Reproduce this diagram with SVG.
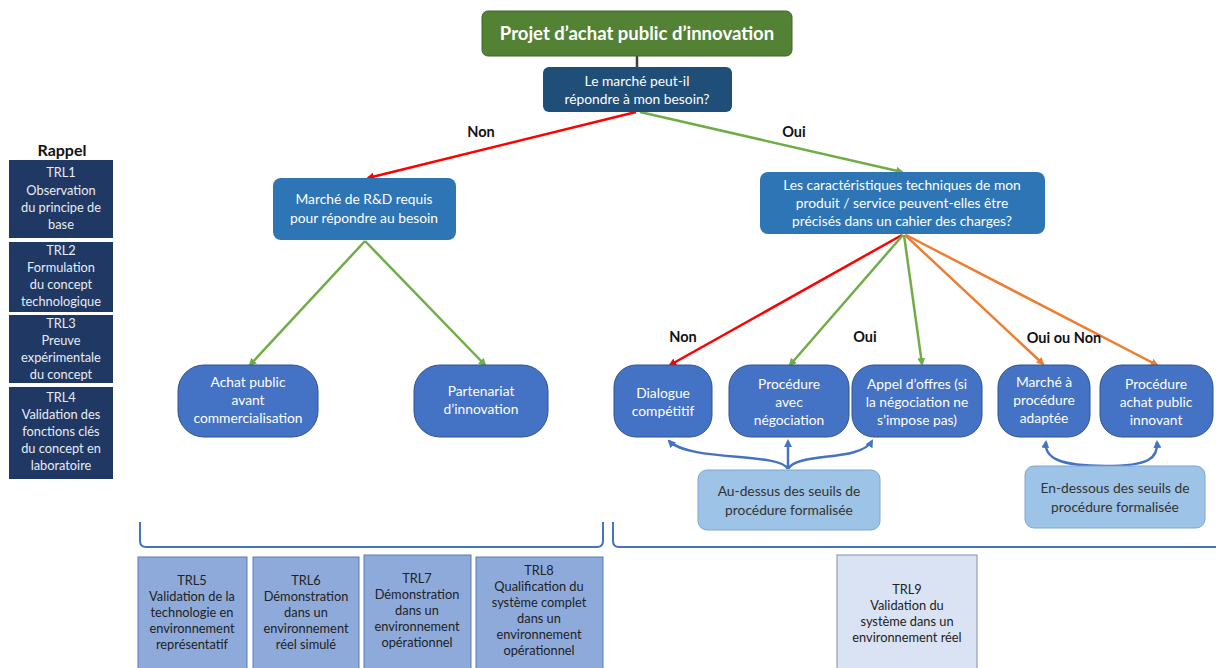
<svg xmlns="http://www.w3.org/2000/svg" width="1216" height="668" viewBox="0 0 1216 668">
<style>
text{font-family:Lato,"Open Sans","Liberation Sans",sans-serif;text-anchor:middle}
.w{fill:#ffffff;font-size:13.8px}
.lab{fill:#111111;font-size:14.5px;font-weight:bold}
.side{fill:#1f3864}
.sw{fill:#e8ecf5;font-size:12.8px}
.trl{fill:#8eaadb;stroke:#5b7bb5;stroke-width:1}
.dt{fill:#222222;font-size:12.8px}
.node{fill:#4472c4;stroke:#2f528f;stroke-width:1}
.note{fill:#9dc3e6;stroke:#7ea6cf;stroke-width:1}
.nt{fill:#333333;font-size:13.8px}
.c{fill:none;stroke-width:2.5}
</style>
<defs>
<marker id="aR" markerWidth="8" markerHeight="8" refX="6" refY="4" orient="auto" markerUnits="userSpaceOnUse"><path d="M0,0 L8,4 L0,8 z" fill="#ff0000"/></marker>
<marker id="aG" markerWidth="8" markerHeight="8" refX="6" refY="4" orient="auto" markerUnits="userSpaceOnUse"><path d="M0,0 L8,4 L0,8 z" fill="#70ad47"/></marker>
<marker id="aO" markerWidth="8" markerHeight="8" refX="6" refY="4" orient="auto" markerUnits="userSpaceOnUse"><path d="M0,0 L8,4 L0,8 z" fill="#ed7d31"/></marker>
<marker id="aB" markerWidth="8" markerHeight="8" refX="6" refY="4" orient="auto" markerUnits="userSpaceOnUse"><path d="M0,0 L8,4 L0,8 z" fill="#4472c4"/></marker>
</defs>
<rect width="1216" height="668" fill="#ffffff"/>

<g id="connectors">
<line x1="637" y1="56" x2="637" y2="67" stroke="#404040" stroke-width="2.5"/>
<line class="c" x1="636" y1="112" x2="368" y2="178" stroke="#ff0000" marker-end="url(#aR)"/>
<line class="c" x1="640" y1="112" x2="902" y2="172" stroke="#70ad47" marker-end="url(#aG)"/>
<line class="c" x1="365" y1="241" x2="250" y2="365" stroke="#70ad47" marker-end="url(#aG)"/>
<line class="c" x1="365" y1="241" x2="485" y2="365" stroke="#70ad47" marker-end="url(#aG)"/>
<line class="c" x1="902" y1="235" x2="670" y2="365" stroke="#ff0000" marker-end="url(#aR)"/>
<line class="c" x1="903" y1="235" x2="790" y2="365" stroke="#70ad47" marker-end="url(#aG)"/>
<line class="c" x1="904" y1="235" x2="922" y2="364" stroke="#70ad47" marker-end="url(#aG)"/>
<line class="c" x1="905" y1="235" x2="1043" y2="364" stroke="#ed7d31" marker-end="url(#aO)"/>
<line class="c" x1="906" y1="235" x2="1157" y2="365" stroke="#ed7d31" marker-end="url(#aO)"/>
<path class="c" d="M788,469 C780,452 690,462 669,441" stroke="#4472c4" stroke-width="2" marker-end="url(#aB)"/>
<path class="c" d="M788,469 L788,441" stroke="#4472c4" stroke-width="2" marker-end="url(#aB)"/>
<path class="c" d="M788,469 C796,452 860,462 872,441" stroke="#4472c4" stroke-width="2" marker-end="url(#aB)"/>
<path class="c" d="M1105,466 C1060,466 1044,458 1046,442" stroke="#4472c4" stroke-width="2" marker-end="url(#aB)"/>
<path class="c" d="M1105,466 C1150,466 1158,458 1157,442" stroke="#4472c4" stroke-width="2" marker-end="url(#aB)"/>
<text class="lab" x="481" y="137">Non</text>
<text class="lab" x="794" y="137">Oui</text>
<text class="lab" x="683" y="342">Non</text>
<text class="lab" x="865" y="342">Oui</text>
<text class="lab" x="1064" y="343">Oui ou Non</text>
<path d="M140,522 L140,541 Q140,547 146,547 L597,547 Q603,547 603,541 L603,522" fill="none" stroke="#4472c4" stroke-width="2"/>
<path d="M613,522 L613,541 Q613,547 619,547 L1216,547" fill="none" stroke="#4472c4" stroke-width="2"/>
</g>

<g id="root">
<rect x="482" y="11" width="310" height="45" rx="6" fill="#548235" stroke="#3f6428" stroke-width="1"/>
<text x="637" y="40" fill="#ffffff" font-size="18.5" font-weight="bold">Projet d’achat public d’innovation</text>
</g>
<g id="q1">
<rect x="543" y="67" width="189" height="45" rx="6" fill="#1f4e79"/>
<text class="w" x="637" y="86">Le marché peut-il</text>
<text class="w" x="637" y="104">répondre à mon besoin?</text>
</g>
<g id="rd">
<rect x="273" y="178" width="183" height="62" rx="8" fill="#2e75b6"/>
<text class="w" x="364" y="204">Marché de R&amp;D requis</text>
<text class="w" x="364" y="223">pour répondre au besoin</text>
</g>
<g id="q2">
<rect x="760" y="172" width="285" height="62" rx="8" fill="#2e75b6"/>
<text class="w" x="902" y="190">Les caractéristiques techniques de mon</text>
<text class="w" x="902" y="208">produit / service peuvent-elles être</text>
<text class="w" x="902" y="226">précisés dans un cahier des charges?</text>
</g>
<g id="achat">
<rect class="node" x="178" y="365" width="140" height="72" rx="26"/>
<text class="w" x="248" y="387">Achat public</text>
<text class="w" x="248" y="405">avant</text>
<text class="w" x="248" y="423">commercialisation</text>
</g>
<g id="partenariat">
<rect class="node" x="414" y="365" width="134" height="72" rx="26"/>
<text class="w" x="481" y="396">Partenariat</text>
<text class="w" x="481" y="414">d’innovation</text>
</g>
<g id="dialogue">
<rect class="node" x="614" y="365" width="98" height="72" rx="22"/>
<text class="w" x="663" y="398">Dialogue</text>
<text class="w" x="663" y="416">compétitif</text>
</g>
<g id="negociation">
<rect class="node" x="729" y="365" width="120" height="72" rx="22"/>
<text class="w" x="789" y="389">Procédure</text>
<text class="w" x="789" y="407">avec</text>
<text class="w" x="789" y="425">négociation</text>
</g>
<g id="appel">
<rect class="node" x="852" y="365" width="130" height="72" rx="22"/>
<text class="w" x="917" y="389">Appel d’offres (si</text>
<text class="w" x="917" y="407">la négociation ne</text>
<text class="w" x="917" y="425">s’impose pas)</text>
</g>
<g id="mapa">
<rect class="node" x="998" y="365" width="92" height="72" rx="22"/>
<text class="w" x="1044" y="387">Marché à</text>
<text class="w" x="1044" y="405">procédure</text>
<text class="w" x="1044" y="423">adaptée</text>
</g>
<g id="innovant">
<rect class="node" x="1100" y="365" width="113" height="72" rx="22"/>
<text class="w" x="1156" y="389">Procédure</text>
<text class="w" x="1156" y="407">achat public</text>
<text class="w" x="1156" y="425">innovant</text>
</g>
<g id="audessus">
<rect class="note" x="698" y="470" width="182" height="60" rx="9"/>
<text class="nt" x="789" y="496">Au-dessus des seuils de</text>
<text class="nt" x="789" y="515">procédure formalisée</text>
</g>
<g id="endessous">
<rect class="note" x="1025" y="466" width="180" height="62" rx="9"/>
<text class="nt" x="1115" y="493">En-dessous des seuils de</text>
<text class="nt" x="1115" y="512">procédure formalisée</text>
</g>

<g id="rappel">
<text x="62" y="156" fill="#111111" font-size="16" font-weight="bold">Rappel</text>
</g>
<g id="trl1">
<rect class="side" x="9" y="160" width="104" height="78"/>
<text class="sw" x="61" y="177">TRL1</text>
<text class="sw" x="61" y="195">Observation</text>
<text class="sw" x="61" y="212">du principe de</text>
<text class="sw" x="61" y="229">base</text>
</g>
<g id="trl2">
<rect class="side" x="9" y="242" width="104" height="70"/>
<text class="sw" x="61" y="255">TRL2</text>
<text class="sw" x="61" y="272">Formulation</text>
<text class="sw" x="61" y="289">du concept</text>
<text class="sw" x="61" y="306">technologique</text>
</g>
<g id="trl3">
<rect class="side" x="9" y="315" width="104" height="68"/>
<text class="sw" x="61" y="328">TRL3</text>
<text class="sw" x="61" y="345">Preuve</text>
<text class="sw" x="61" y="362">expérimentale</text>
<text class="sw" x="61" y="379">du concept</text>
</g>
<g id="trl4">
<rect class="side" x="9" y="387" width="104" height="92"/>
<text class="sw" x="61" y="402">TRL4</text>
<text class="sw" x="61" y="419">Validation des</text>
<text class="sw" x="61" y="436">fonctions clés</text>
<text class="sw" x="61" y="453">du concept en</text>
<text class="sw" x="61" y="470">laboratoire</text>
</g>

<g id="trl5">
<rect class="trl" x="138" y="557" width="109" height="115"/>
<text class="dt" x="192" y="585">TRL5</text>
<text class="dt" x="192" y="601">Validation de la</text>
<text class="dt" x="192" y="617">technologie en</text>
<text class="dt" x="192" y="633">environnement</text>
<text class="dt" x="192" y="649">représentatif</text>
</g>
<g id="trl6">
<rect class="trl" x="253" y="557" width="106" height="115"/>
<text class="dt" x="306" y="585">TRL6</text>
<text class="dt" x="306" y="601">Démonstration</text>
<text class="dt" x="306" y="617">dans un</text>
<text class="dt" x="306" y="633">environnement</text>
<text class="dt" x="306" y="649">réel simulé</text>
</g>
<g id="trl7">
<rect class="trl" x="364" y="555" width="107" height="117" stroke="#44618f"/>
<text class="dt" x="417" y="583">TRL7</text>
<text class="dt" x="417" y="599">Démonstration</text>
<text class="dt" x="417" y="615">dans un</text>
<text class="dt" x="417" y="631">environnement</text>
<text class="dt" x="417" y="647">opérationnel</text>
</g>
<g id="trl8">
<rect class="trl" x="476" y="557" width="127" height="115"/>
<text class="dt" x="539" y="575">TRL8</text>
<text class="dt" x="539" y="591">Qualification du</text>
<text class="dt" x="539" y="607">système complet</text>
<text class="dt" x="539" y="623">dans un</text>
<text class="dt" x="539" y="639">environnement</text>
<text class="dt" x="539" y="655">opérationnel</text>
</g>
<g id="trl9">
<rect x="837" y="555" width="140" height="117" fill="#dae3f3" stroke="#7f8fa9" stroke-width="1"/>
<text class="dt" x="907" y="594">TRL9</text>
<text class="dt" x="907" y="610">Validation du</text>
<text class="dt" x="907" y="626">système dans un</text>
<text class="dt" x="907" y="642">environnement réel</text>
</g>
</svg>
